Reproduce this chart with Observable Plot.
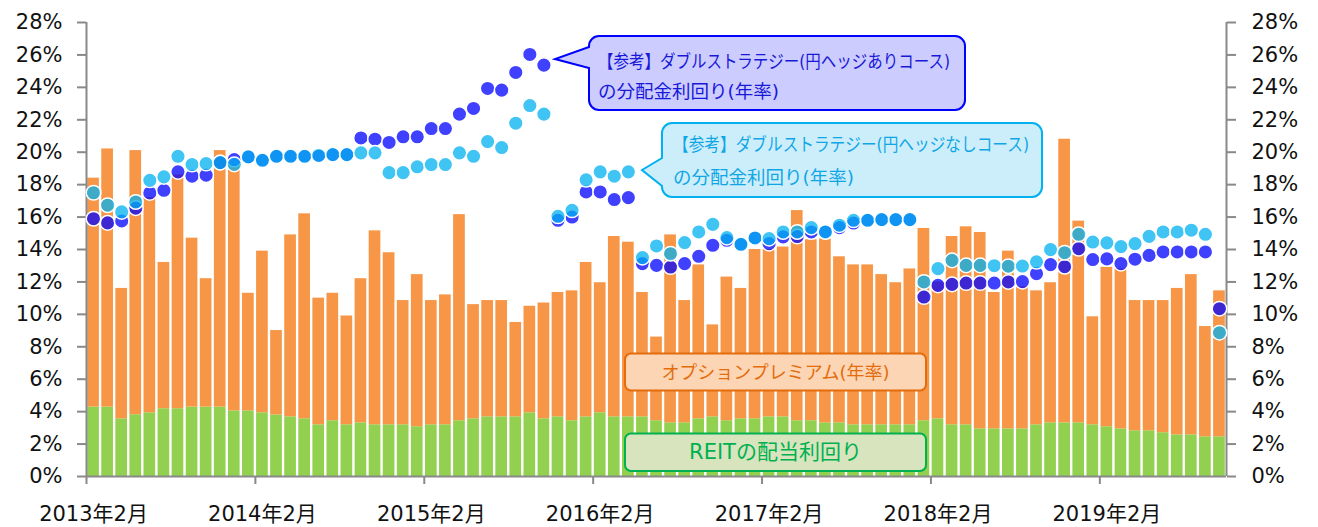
<!DOCTYPE html>
<html><head><meta charset="utf-8">
<script src="https://cdn.jsdelivr.net/npm/d3@7"></script>
<script src="https://cdn.jsdelivr.net/npm/@observablehq/plot@0.6"></script>
<style>
body{margin:0;background:#fff;}
#chart svg{display:block;}
</style></head><body><div id="chart"></div>
<script>
// Month index 0 = 2013年2月 ... 80 = 2019年10月
const tickLabels = ["2013年2月","2014年2月","2015年2月","2016年2月","2017年2月","2018年2月","2019年2月"];
const yTicks = [0,2,4,6,8,10,12,14,16,18,20,22,24,26,28];

// REITの配当利回り (%)
const reit = [
  4.28,4.28,3.56,3.81,3.93,4.18,4.18,4.28,4.28,4.28,
  4.05,4.05,3.93,3.8,3.68,3.56,3.19,3.44,3.19,3.31,
  3.19,3.19,3.19,3.07,3.19,3.19,3.44,3.56,3.68,3.68,
  3.68,3.93,3.56,3.68,3.44,3.68,3.93,3.68,3.68,3.68,
  3.44,3.31,3.31,3.56,3.68,3.44,3.56,3.56,3.68,3.68,
  3.44,3.44,3.31,3.31,3.19,3.19,3.19,3.19,3.19,3.44,
  3.56,3.19,3.19,2.94,2.94,2.94,2.94,3.19,3.31,3.31,
  3.31,3.19,3.07,2.94,2.82,2.82,2.7,2.57,2.57,2.45,
  2.45
];
// オプションプレミアム(年率) (%)
const premium = [
  14.12,15.92,8.04,16.29,13.27,9.02,14.42,10.42,7.92,15.82,
  15.15,7.25,9.97,5.2,11.22,12.64,7.81,7.86,6.71,8.89,
  11.96,10.61,7.66,9.38,7.66,8.01,12.71,7.04,7.17,7.17,
  5.82,6.57,7.14,7.67,8.01,9.52,8.02,11.12,10.77,7.67,
  5.16,11.59,7.54,9.49,5.67,8.86,8.04,10.44,10.32,10.47,
  12.96,11.16,11.34,10.24,9.86,9.86,9.26,8.76,9.61,11.86,
  8.44,11.61,12.21,12.11,8.41,10.96,8.76,8.26,8.64,17.49,
  12.44,6.66,9.83,9.86,8.03,8.03,8.15,9.03,9.88,6.8,
  9.0
];
// 【参考】ダブルストラテジー(円ヘッジありコース)の分配金利回り(年率)
const hedged = [
  15.9,15.64,15.76,16.55,17.49,17.65,18.79,18.52,18.58,19.36,
  19.55,19.71,19.5,19.75,19.75,19.75,19.75,19.85,19.85,20.88,
  20.8,20.6,20.95,20.95,21.46,21.46,22.35,22.7,23.93,23.83,
  24.92,26.03,25.37,15.8,16.0,17.55,17.55,17.08,17.2,13.13,
  13.02,12.92,13.13,13.58,14.26,14.57,14.3,14.71,14.36,14.78,
  14.8,15.08,15.1,15.35,15.63,15.8,15.84,15.84,15.84,11.07,
  11.79,11.85,11.93,11.93,11.93,12.0,12.02,12.51,13.07,12.94,
  14.05,13.38,13.42,13.13,13.4,13.64,13.85,13.85,13.85,13.85,
  10.35
];
// 【参考】ダブルストラテジー(円ヘッジなしコース)の分配金利回り(年率)
const unhedged = [
  17.5,16.73,16.32,16.93,18.27,18.48,19.75,19.24,19.3,19.36,
  19.25,19.71,19.5,19.75,19.75,19.75,19.8,19.85,19.85,19.96,
  19.96,18.74,18.74,19.1,19.24,19.24,19.96,19.75,20.66,20.29,
  21.79,22.88,22.35,16.05,16.42,18.3,18.79,18.52,18.79,13.5,
  14.22,13.74,14.43,15.08,15.55,14.73,14.32,14.71,14.67,15.08,
  15.08,15.35,15.08,15.5,15.8,15.8,15.84,15.84,15.84,12.0,
  12.82,13.33,13.02,13.02,13.0,12.97,12.98,13.24,13.99,13.8,
  14.94,14.46,14.41,14.18,14.36,14.81,15.08,15.08,15.19,14.94,
  8.87
];

const rows = reit.map((r, i) => ({i, reit: r, premium: premium[i], hedged: hedged[i], unhedged: unhedged[i]}));
const nMonths = rows.length;
const ticks = tickLabels.map((t, k) => ({label: t, i: k * 12}));
const axisColor = "#898989";
const font = '"DejaVu Sans","Noto Sans CJK JP",sans-serif';

const chart = Plot.plot({
  width: 1318, height: 527,
  marginLeft: 86, marginRight: 92, marginTop: 22, marginBottom: 51,
  x: {type: "linear", domain: [0, nMonths], axis: null},
  y: {type: "linear", domain: [0, 28], axis: null},
  style: {fontFamily: font, background: "#fff", overflow: "visible"},
  marks: [
    Plot.rect(rows, {x1: "i", x2: d => d.i + 1, y1: () => 0, y2: "reit", fill: "#92D050", insetLeft: 1.2, insetRight: 1.2}),
    Plot.rect(rows, {x1: "i", x2: d => d.i + 1, y1: "reit", y2: d => d.reit + d.premium, fill: "#F79646", insetLeft: 1.2, insetRight: 1.2}),
    Plot.ruleX([0, nMonths], {stroke: axisColor, strokeWidth: 2}),
    Plot.ruleY([0], {stroke: axisColor, strokeWidth: 2}),
    Plot.axisY({anchor: "left", label: null, ticks: yTicks, tickFormat: d => d + "%", tickSize: 9, tickPadding: 15, fontSize: 21, stroke: axisColor, strokeWidth: 2, fill: "#111"}),
    Plot.axisY({anchor: "right", label: null, ticks: yTicks, tickFormat: d => d + "%", tickSize: 9, tickPadding: 16, fontSize: 21, stroke: axisColor, strokeWidth: 2, fill: "#111"}),
    Plot.axisX({anchor: "bottom", label: null, ticks: ticks.map(d => d.i), tickFormat: () => "", tickSize: 8, stroke: axisColor, strokeWidth: 2}),
    Plot.dot(rows, {x: d => d.i + 0.5, y: "hedged", r: 7.3, fill: "#0000FF", fillOpacity: 0.75, stroke: "white", strokeWidth: 1.5}),
    Plot.dot(rows, {x: d => d.i + 0.5, y: "unhedged", r: 7.3, fill: "#00B0F0", fillOpacity: 0.75, stroke: "white", strokeWidth: 1.5}),
    Plot.text(ticks, {x: d => d.i + 0.5, y: () => 0, dy: 38, text: "label", fontSize: 21, fill: "#111"})
  ]
});
document.getElementById("chart").appendChild(chart);

const svg = d3.select(chart);

// Callouts / labels (annotations)
function callout(g, {x, y, w, h, r, tip, b1, b2, fill, stroke}) {
  const p = `M${x + r},${y} H${x + w - r} A${r},${r} 0 0 1 ${x + w},${y + r} V${y + h - r} A${r},${r} 0 0 1 ${x + w - r},${y + h} H${x + r} A${r},${r} 0 0 1 ${x},${y + h - r} V${b2} L${tip[0]},${tip[1]} L${x},${b1} V${y + r} A${r},${r} 0 0 1 ${x + r},${y} Z`;
  g.append("path").attr("d", p).attr("fill", fill).attr("stroke", stroke).attr("stroke-width", 2);
}
const ann = svg.append("g").attr("font-family", font).attr("text-anchor", "start");
callout(ann, {x: 589, y: 36, w: 376, h: 74, r: 10, tip: [555, 59], b1: 47, b2: 68, fill: "#CCCCFF", stroke: "#0000FF"});
ann.append("text").attr("x", 598).attr("y", 62).attr("dy", "0.35em").attr("font-size", 18).attr("fill", "#1818D8")
  .attr("textLength", 352).attr("lengthAdjust", "spacingAndGlyphs").text("【参考】ダブルストラテジー(円ヘッジありコース)");
ann.append("text").attr("x", 598).attr("y", 92).attr("dy", "0.35em").attr("font-size", 18.5).attr("fill", "#1818D8")
  .text("の分配金利回り(年率)");

callout(ann, {x: 662, y: 123, w: 380, h: 74, r: 10, tip: [642, 170], b1: 158, b2: 186, fill: "#CCEEFB", stroke: "#00B0F0"});
ann.append("text").attr("x", 673).attr("y", 145).attr("dy", "0.35em").attr("font-size", 18).attr("fill", "#10A6E6")
  .attr("textLength", 356).attr("lengthAdjust", "spacingAndGlyphs").text("【参考】ダブルストラテジー(円ヘッジなしコース)");
ann.append("text").attr("x", 673).attr("y", 178).attr("dy", "0.35em").attr("font-size", 18.5).attr("fill", "#10A6E6")
  .text("の分配金利回り(年率)");

ann.append("rect").attr("x", 625).attr("y", 353.5).attr("width", 301).attr("height", 37).attr("rx", 6)
  .attr("fill", "#FCD5B5").attr("stroke", "#E46C0A").attr("stroke-width", 2);
ann.append("text").attr("x", 775.5).attr("y", 372.5).attr("dy", "0.35em").attr("text-anchor", "middle").attr("font-size", 18)
  .attr("fill", "#E46C0A").text("オプションプレミアム(年率)");
ann.append("rect").attr("x", 625).attr("y", 433.5).attr("width", 301).attr("height", 37.5).attr("rx", 6)
  .attr("fill", "#D7E4BD").attr("stroke", "#00B050").attr("stroke-width", 2);
ann.append("text").attr("x", 775.5).attr("y", 452).attr("dy", "0.35em").attr("text-anchor", "middle").attr("font-size", 21)
  .attr("fill", "#00B050").text("REITの配当利回り");
</script></body></html>
